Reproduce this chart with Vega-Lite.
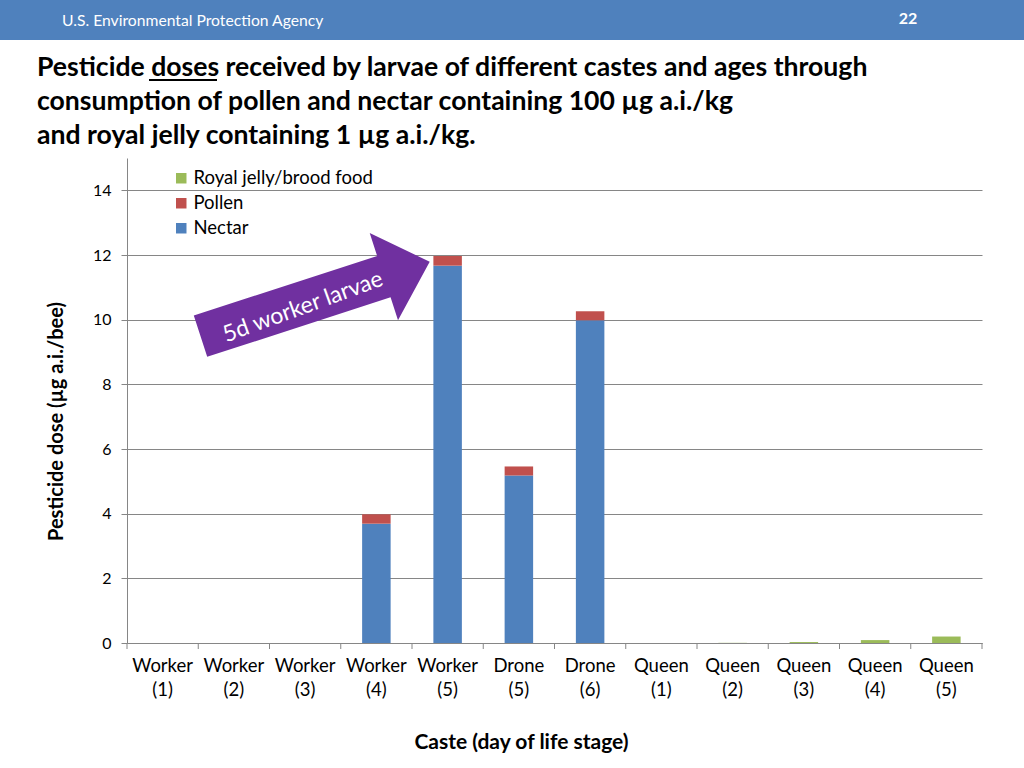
{
  "$schema": "https://vega.github.io/schema/vega-lite/v6.json",
  "width": 855,
  "height": 485,
  "autosize": {"type": "none"},
  "padding": {"left": 127, "top": 158, "right": 42, "bottom": 125},
  "background": "white",
  "config": {"view": {"stroke": null}, "font": "Lato"},
  "title": {
    "text": ["Pesticide doses received by larvae of different castes and ages through", "consumption of pollen and nectar containing 100 µg a.i./kg", "and royal jelly containing 1 µg a.i./kg."],
    "anchor": "start",
    "frame": "group",
    "dx": -90,
    "dy": 158,
    "offset": 8,
    "fontSize": 26.6,
    "fontWeight": "bold",
    "font": "Lato",
    "lineHeight": 34,
    "color": "black"
  },
  "data": {
    "values": [
      {"caste": "Worker (4)", "component": "Nectar", "ord": 0, "dose": 3.69},
      {"caste": "Worker (4)", "component": "Pollen", "ord": 1, "dose": 0.29},
      {"caste": "Worker (5)", "component": "Nectar", "ord": 0, "dose": 11.67},
      {"caste": "Worker (5)", "component": "Pollen", "ord": 1, "dose": 0.30},
      {"caste": "Drone (5)", "component": "Nectar", "ord": 0, "dose": 5.18},
      {"caste": "Drone (5)", "component": "Pollen", "ord": 1, "dose": 0.28},
      {"caste": "Drone (6)", "component": "Nectar", "ord": 0, "dose": 9.98},
      {"caste": "Drone (6)", "component": "Pollen", "ord": 1, "dose": 0.28},
      {"caste": "Queen (2)", "component": "Royal jelly/brood food", "ord": 2, "dose": 0.005},
      {"caste": "Queen (3)", "component": "Royal jelly/brood food", "ord": 2, "dose": 0.03},
      {"caste": "Queen (4)", "component": "Royal jelly/brood food", "ord": 2, "dose": 0.09},
      {"caste": "Queen (5)", "component": "Royal jelly/brood food", "ord": 2, "dose": 0.2}
    ]
  },
  "layer": [
    {
      "data": {"values": [{"t": "header"}]},
      "mark": {"type": "rect", "color": "#4f81bd"},
      "encoding": {"x": {"value": -127}, "x2": {"value": 897}, "y": {"value": -158}, "y2": {"value": -118}}
    },
    {
      "data": {"values": [{"t": "U.S. Environmental Protection Agency"}]},
      "mark": {"type": "text", "color": "white", "fontSize": 15.7, "align": "left", "baseline": "alphabetic", "font": "Lato"},
      "encoding": {"text": {"field": "t"}, "x": {"value": -65}, "y": {"value": -132}}
    },
    {
      "data": {"values": [{"t": "22"}]},
      "mark": {"type": "text", "color": "white", "fontSize": 16, "fontWeight": "bold", "align": "center", "baseline": "alphabetic", "font": "Lato"},
      "encoding": {"text": {"field": "t"}, "x": {"value": 781}, "y": {"value": -134}}
    },
    {
      "data": {"values": [{"t": "underline"}]},
      "mark": {"type": "rule", "color": "black", "strokeWidth": 2},
      "encoding": {"x": {"value": 22}, "x2": {"value": 90}, "y": {"value": -78}}
    },
    {
      "mark": {"type": "bar", "width": {"band": 0.4}},
      "encoding": {
        "x": {
          "field": "caste",
          "type": "nominal",
          "scale": {"domain": ["Worker (1)", "Worker (2)", "Worker (3)", "Worker (4)", "Worker (5)", "Drone (5)", "Drone (6)", "Queen (1)", "Queen (2)", "Queen (3)", "Queen (4)", "Queen (5)"], "paddingInner": 0, "paddingOuter": 0},
          "axis": {
            "labelExpr": "split(datum.value, ' ')",
            "labelAngle": 0,
            "labelFontSize": 18.5,
            "labelColor": "black",
            "labelPadding": 13,
            "labelLineHeight": 24,
            "labelBaseline": "top",
            "ticks": false,
            "domainColor": "#868686",
            "title": "Caste (day of life stage)",
            "titleFontSize": 21,
            "titleFontWeight": "bold",
            "titleColor": "black",
            "titleX": 394,
            "titleY": 105,
            "titleBaseline": "alphabetic"
          }
        },
        "y": {
          "field": "dose",
          "type": "quantitative",
          "stack": "zero",
          "scale": {"domain": [0, 15], "nice": false},
          "axis": {
            "values": [0, 2, 4, 6, 8, 10, 12, 14],
            "grid": true,
            "gridColor": "#868686",
            "domainColor": "#868686",
            "tickColor": "#868686",
            "tickSize": 6,
            "labelFontSize": 16,
            "labelColor": "black",
            "labelPadding": 10,
            "title": "Pesticide dose (µg a.i./bee)",
            "titleFontSize": 20,
            "titleFontWeight": "bold",
            "titleColor": "black",
            "titleX": -71,
            "titleY": 263,
            "titleAngle": 270,
            "titleAlign": "center",
            "titleBaseline": "middle"
          }
        },
        "color": {
          "field": "component",
          "type": "nominal",
          "scale": {"domain": ["Royal jelly/brood food", "Pollen", "Nectar"], "range": ["#9bbb59", "#c0504d", "#4f81bd"]},
          "legend": {
            "orient": "none",
            "legendX": 45,
            "legendY": 11,
            "title": null,
            "symbolType": "square",
            "symbolSize": 110,
            "symbolStrokeWidth": 0,
            "labelFontSize": 18.5,
            "labelColor": "black",
            "labelOffset": 3,
            "labelLimit": 400,
            "rowPadding": 6
          }
        },
        "order": {"field": "ord", "type": "quantitative"}
      }
    },
    {
      "data": {"values": [{"caste": "Worker (1)"}, {"caste": "Worker (2)"}, {"caste": "Worker (3)"}, {"caste": "Worker (4)"}, {"caste": "Worker (5)"}, {"caste": "Drone (5)"}, {"caste": "Drone (6)"}, {"caste": "Queen (1)"}, {"caste": "Queen (2)"}, {"caste": "Queen (3)"}, {"caste": "Queen (4)"}, {"caste": "Queen (5)"}]},
      "mark": {"type": "rule", "color": "#868686"},
      "encoding": {"x": {"field": "caste", "type": "nominal", "bandPosition": 0}, "y": {"value": 485}, "y2": {"value": 491}}
    },
    {
      "data": {"values": [{"caste": "Queen (5)"}]},
      "mark": {"type": "rule", "color": "#868686"},
      "encoding": {"x": {"field": "caste", "type": "nominal", "bandPosition": 1}, "y": {"value": 485}, "y2": {"value": 491}}
    },
    {
      "data": {"values": [{"caste": "Worker (3)", "dose": 10.64}]},
      "mark": {"type": "point", "shape": "M -1 -0.18 L 0.6 -0.18 L 0.6 -0.38 L 1 0 L 0.6 0.38 L 0.6 0.18 L -1 0.18 Z", "size": 58081, "angle": 342, "filled": true, "color": "#7030a0", "opacity": 1, "strokeWidth": 0},
      "encoding": {"x": {"field": "caste", "type": "nominal", "bandPosition": 0.64}, "y": {"field": "dose", "type": "quantitative"}}
    },
    {
      "data": {"values": [{"caste": "Worker (3)", "dose": 10.39, "label": "5d worker larvae"}]},
      "mark": {"type": "text", "color": "white", "fontSize": 23, "angle": 340, "align": "center", "baseline": "middle", "font": "Lato"},
      "encoding": {"x": {"field": "caste", "type": "nominal", "bandPosition": 0.47}, "y": {"field": "dose", "type": "quantitative"}, "text": {"field": "label"}}
    }
  ]
}
